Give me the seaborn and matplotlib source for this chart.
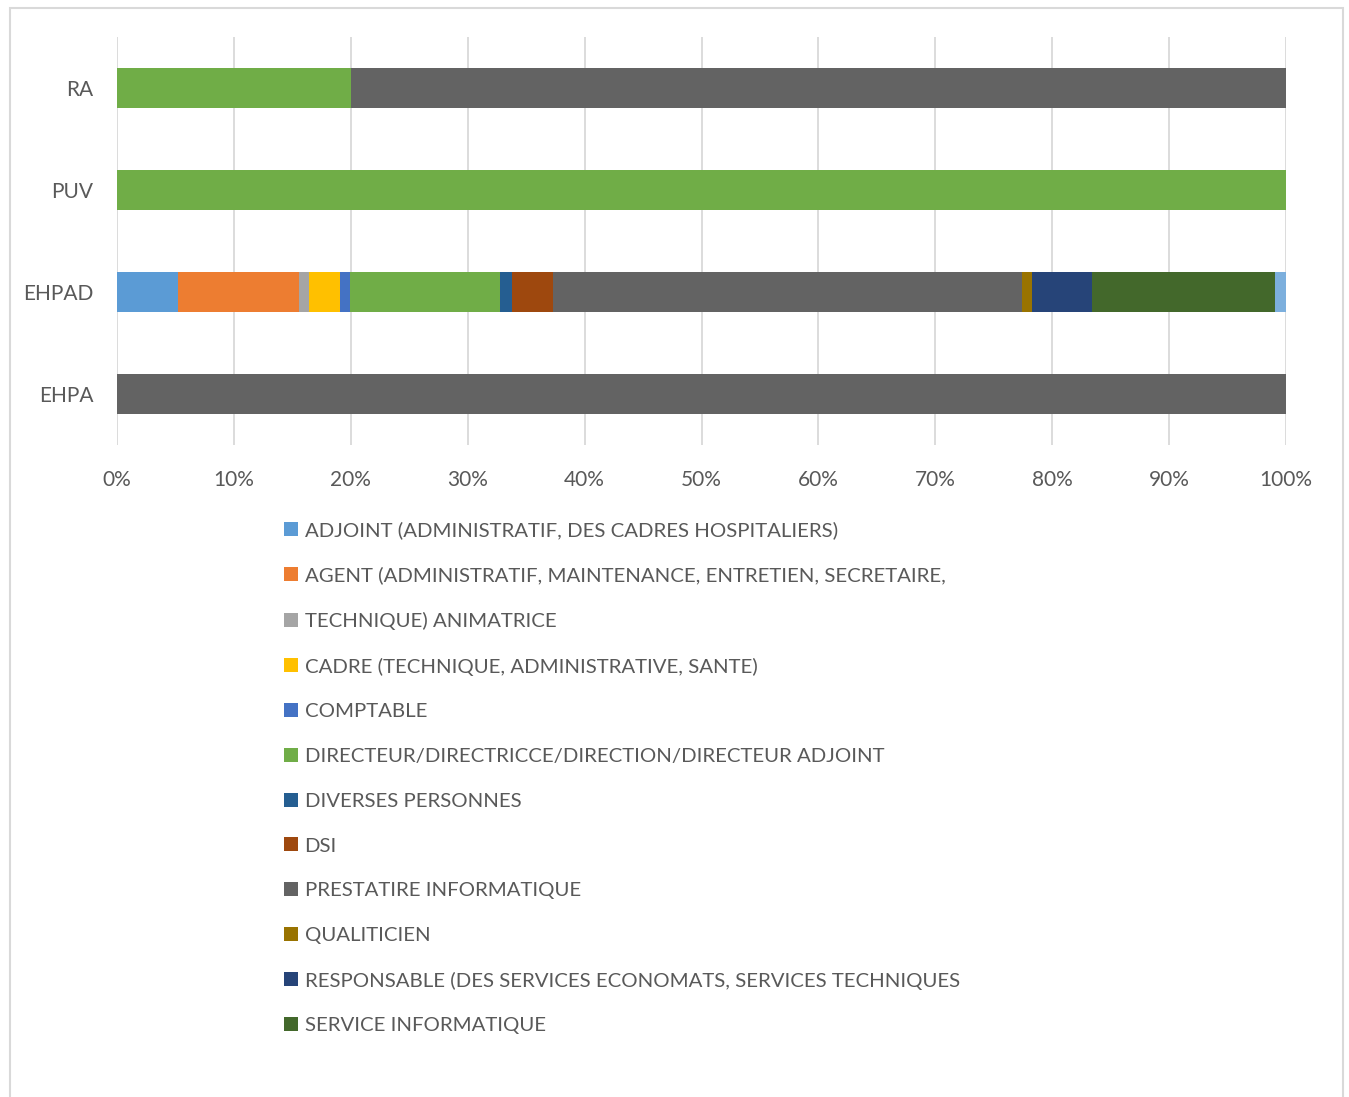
import numpy as np
import pandas as pd
import matplotlib
matplotlib.use("Agg")
import matplotlib.pyplot as plt
from matplotlib.patches import Patch, Rectangle
import seaborn as sns

categories = ["RA", "PUV", "EHPAD", "EHPA"]

series_names = [
    "ADJOINT (ADMINISTRATIF, DES CADRES HOSPITALIERS)",
    "AGENT (ADMINISTRATIF, MAINTENANCE, ENTRETIEN, SECRETAIRE,",
    "TECHNIQUE) ANIMATRICE",
    "CADRE (TECHNIQUE, ADMINISTRATIVE, SANTE)",
    "COMPTABLE",
    "DIRECTEUR/DIRECTRICCE/DIRECTION/DIRECTEUR ADJOINT",
    "DIVERSES PERSONNES",
    "DSI",
    "PRESTATIRE INFORMATIQUE",
    "QUALITICIEN",
    "RESPONSABLE (DES SERVICES ECONOMATS, SERVICES TECHNIQUES",
    "SERVICE INFORMATIQUE",
    "AUTRE",
]

# percentages per category (RA, PUV, EHPAD, EHPA)
adjoint      = [0, 0, 5.2, 0]
agent        = [0, 0, 10.4, 0]
animatrice   = [0, 0, 0.8, 0]
cadre        = [0, 0, 2.7, 0]
comptable    = [0, 0, 0.8, 0]
directeur    = [20, 100, 12.9, 0]
diverses     = [0, 0, 1.0, 0]
dsi          = [0, 0, 3.5, 0]
prestataire  = [80, 0, 40.1, 100]
qualiticien  = [0, 0, 0.9, 0]
responsable  = [0, 0, 5.1, 0]
service_info = [0, 0, 15.7, 0]
autre        = [0, 0, 0.9, 0]

series_values = [adjoint, agent, animatrice, cadre, comptable, directeur,
                 diverses, dsi, prestataire, qualiticien, responsable,
                 service_info, autre]

colors = ["#5B9BD5", "#ED7D31", "#A5A5A5", "#FFC000", "#4472C4", "#70AD47",
          "#255E91", "#9E480E", "#636363", "#997300", "#264478", "#43682B",
          "#7CAFDD"]

ticks = [0, 10, 20, 30, 40, 50, 60, 70, 80, 90, 100]
tick_labels = [f"{t}%" for t in ticks]

sns.set_theme(style="white")
plt.rcParams["font.family"] = ["Lato", "DejaVu Sans"]
text_color = "#595959"

W, H = 1349, 1097
fig = plt.figure(figsize=(W / 100, H / 100), dpi=100)
ax = fig.add_axes([117 / W, 1 - 445 / H, (1286 - 117) / W, (445 - 37) / H])

vals = np.array(series_values, dtype=float)
cum = np.cumsum(vals, axis=0)

# draw cumulative bars from last to first so each segment shows
for i in range(len(series_names) - 1, -1, -1):
    df = pd.DataFrame({"cat": categories, "val": cum[i]})
    sns.barplot(data=df, x="val", y="cat", order=categories, orient="h",
                color=colors[i], saturation=1, width=0.39, ax=ax,
                edgecolor="none", linewidth=0, zorder=2)

ax.set_xlim(0, 100)
ax.set_ylim(3.5, -0.5)
ax.set_xticks(ticks)
ax.set_xticklabels(tick_labels)
ax.xaxis.grid(True, color="#D9D9D9", linewidth=1.3, zorder=0)
ax.set_axisbelow(True)
for s in ax.spines.values():
    s.set_visible(False)
ax.set_xlabel("")
ax.set_ylabel("")
ax.tick_params(axis="both", length=0, labelsize=15, colors=text_color)
ax.tick_params(axis="x", pad=18)
ax.tick_params(axis="y", pad=17)

# legend (12 visible entries)
handles = [Patch(facecolor=colors[i], edgecolor="none") for i in range(12)]
leg = fig.legend(handles, series_names[:12], loc="upper left",
                 bbox_to_anchor=(284 / W, 1 - 521 / H),
                 frameon=False, fontsize=14.7, labelcolor=text_color,
                 handlelength=0.68, handleheight=0.68, handletextpad=0.33,
                 labelspacing=1.35, borderpad=0, borderaxespad=0)

# chart frame
fig.patches.append(Rectangle((10 / W, -0.02), (1343 - 10) / W, (1097 - 8) / H + 0.02,
                             transform=fig.transFigure, fill=False,
                             edgecolor="#D9D9D9", linewidth=1.5))

fig.savefig("out.png", dpi=100)
